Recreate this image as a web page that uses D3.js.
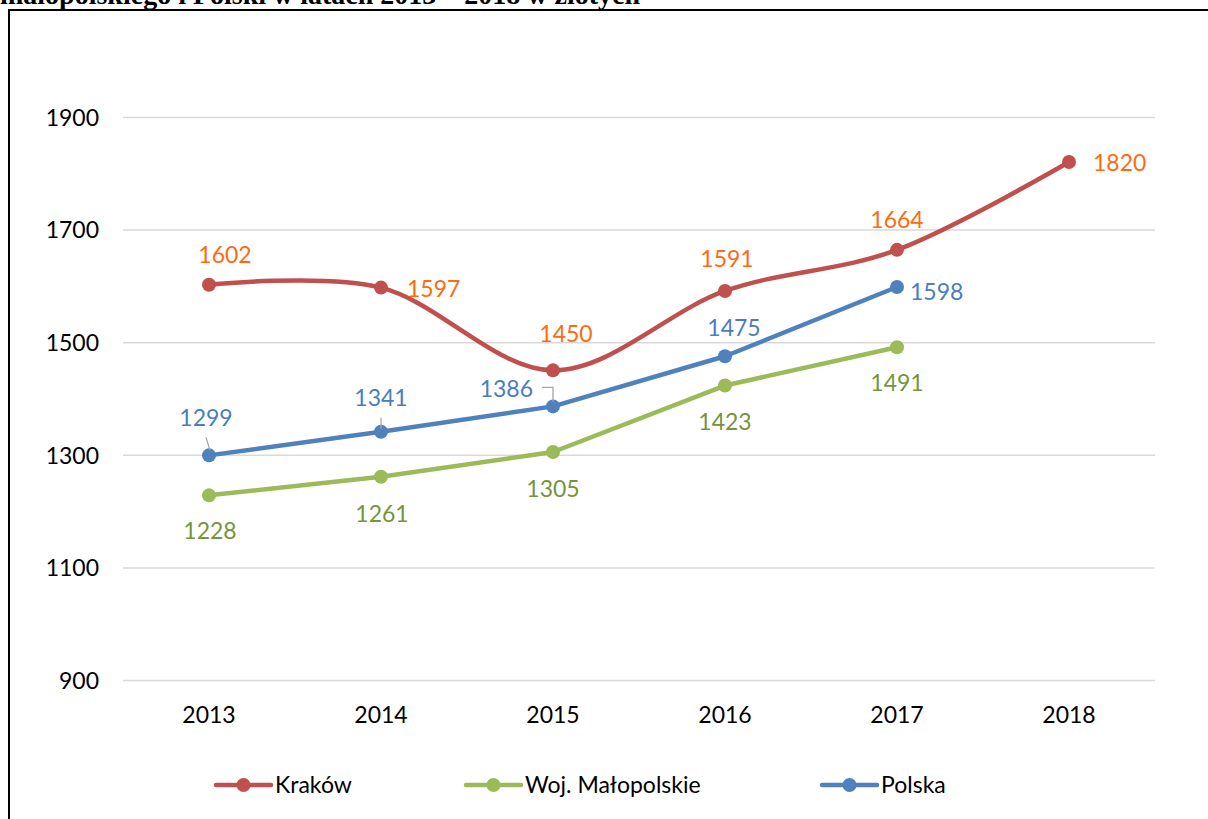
<!DOCTYPE html>
<html>
<head>
<meta charset="utf-8">
<script src="https://cdn.jsdelivr.net/npm/d3@7"></script>
<style>
  body { margin: 0; background: #fff; }
  svg { display: block; }
</style>
</head>
<body>
<div id="chart"></div>
<script>
var width = 1208;
var height = 819;

let years = ['2013', '2014', '2015', '2016', '2017', '2018'];
let yTicks = [900, 1100, 1300, 1500, 1700, 1900];
let seriesNames = ['Kraków', 'Woj. Małopolskie', 'Polska'];
let krakow = [1602, 1597, 1450, 1591, 1664, 1820];
let malopolskie = [1228, 1261, 1305, 1423, 1491];
let polska = [1299, 1341, 1386, 1475, 1598];
let titleText = 'małopolskiego i Polski w latach 2013 – 2018 w złotych';

// label placement for each point: [dx, dy, anchor]
let krakowLabels = [[16, -22, 'middle'], [26, 9, 'start'], [13, -28, 'middle'], [2, -24, 'middle'], [0, -22, 'middle'], [24, 9, 'start']];
let malopolskieLabels = [[1, 44, 'middle'], [1, 45, 'middle'], [0, 45, 'middle'], [0, 44, 'middle'], [0, 44, 'middle']];
let polskaLabels = [[-3, -29, 'middle'], [0, -26, 'middle'], [-20, -9, 'end'], [9, -20, 'middle'], [13, 13, 'start']];

var lineColors = ['#c0504d', '#9bbb59', '#4f81bd'];
var labelColors = ['#ff6a0f', '#77933c', '#4a7ebb'];
var font = 'Lato, "Open Sans", sans-serif';
var fontSize = 23;

let scaleX = d3.scaleBand()
    .domain(years)
    .range([123, 1155]);

let scaleY = d3.scaleLinear()
    .domain([900, 1900])
    .range([680, 117]);

let cx = d => scaleX(d) + scaleX.bandwidth() / 2;

let svg = d3.select('#chart')
    .append('svg')
    .attr('width', width)
    .attr('height', height);

// title of the document, cut off by the page top as in the original
svg.append('text')
    .attr('x', 0)
    .attr('y', 4)
    .attr('font-family', '"Liberation Serif", "Times New Roman", serif')
    .attr('font-weight', 'bold')
    .attr('font-size', 28)
    .attr('fill', '#000')
    .text(titleText);

svg.append('rect')
    .attr('x', 9)
    .attr('y', 10)
    .attr('width', width + 20)
    .attr('height', height + 20)
    .attr('fill', 'none')
    .attr('stroke', '#000')
    .attr('stroke-width', 2);

// gridlines and y labels
let yAxis = d3.axisLeft(scaleY)
    .tickValues(yTicks)
    .tickSize(-(1155 - 123))
    .tickPadding(24)
    .tickFormat(d3.format('d'));

let gy = svg.append('g')
    .attr('transform', 'translate(123,0)')
    .call(yAxis);
gy.select('.domain').remove();
gy.selectAll('.tick line')
    .attr('stroke', '#d9d9d9')
    .attr('stroke-width', 1.5);
gy.selectAll('.tick text')
    .attr('font-family', font)
    .attr('font-size', fontSize)
    .attr('fill', '#000')
    .attr('dy', '0.36em');

let xAxis = d3.axisBottom(scaleX)
    .tickSize(0)
    .tickPadding(27);

let gx = svg.append('g')
    .attr('transform', 'translate(0,680)')
    .call(xAxis);
gx.select('.domain').remove();
gx.selectAll('.tick text')
    .attr('font-family', font)
    .attr('font-size', fontSize)
    .attr('fill', '#000');

let series = [
    { name: seriesNames[0], values: krakow, labels: krakowLabels, curve: d3.curveCardinal },
    { name: seriesNames[1], values: malopolskie, labels: malopolskieLabels, curve: d3.curveLinear },
    { name: seriesNames[2], values: polska, labels: polskaLabels, curve: d3.curveLinear }
];

// draw order: green, blue, red on top
let order = [1, 2, 0];

order.forEach(i => {
    let s = series[i];
    let pts = s.values.map((v, j) => [cx(years[j]), scaleY(v)]);
    let line = d3.line().curve(s.curve);

    svg.append('path')
        .attr('d', line(pts))
        .attr('fill', 'none')
        .attr('stroke', lineColors[i])
        .attr('stroke-width', 4.5)
        .attr('stroke-linejoin', 'round')
        .attr('stroke-linecap', 'round');

    svg.append('g')
        .selectAll('circle')
        .data(pts)
        .enter()
        .append('circle')
        .attr('cx', d => d[0])
        .attr('cy', d => d[1])
        .attr('r', 7)
        .attr('fill', lineColors[i]);
});

// leader lines for some Polska labels
let leaderColor = '#a6a6a6';
let p0 = [cx(years[0]), scaleY(polska[0])];
let p1 = [cx(years[1]), scaleY(polska[1])];
let p2 = [cx(years[2]), scaleY(polska[2])];
let leaders = [
    [[p0[0] - 3, p0[1] - 18], [p0[0] + 1, p0[1] - 5]],
    [[p1[0], p1[1] - 14], [p1[0], p1[1] - 3]],
    [[p2[0] - 11, p2[1] - 19], [p2[0], p2[1] - 19], [p2[0], p2[1] - 5]]
];
svg.append('g')
    .selectAll('path')
    .data(leaders)
    .enter()
    .append('path')
    .attr('d', d => d3.line()(d))
    .attr('fill', 'none')
    .attr('stroke', leaderColor)
    .attr('stroke-width', 1.3);

// data labels
series.forEach((s, i) => {
    svg.append('g')
        .selectAll('text')
        .data(s.values)
        .enter()
        .append('text')
        .attr('x', (d, j) => cx(years[j]) + s.labels[j][0])
        .attr('y', (d, j) => scaleY(d) + s.labels[j][1])
        .attr('text-anchor', (d, j) => s.labels[j][2])
        .attr('font-family', font)
        .attr('font-size', fontSize)
        .attr('fill', labelColors[i])
        .text(d => d);
});

// legend
let legendX = [216, 466, 822];
let legend = svg.append('g')
    .selectAll('g')
    .data(series)
    .enter()
    .append('g')
    .attr('transform', (d, i) => 'translate(' + legendX[i] + ',785)');

legend.append('line')
    .attr('x1', 0)
    .attr('x2', 55)
    .attr('stroke', (d, i) => lineColors[i])
    .attr('stroke-width', 4.5)
    .attr('stroke-linecap', 'round');
legend.append('circle')
    .attr('cx', 27.5)
    .attr('r', 7)
    .attr('fill', (d, i) => lineColors[i]);
legend.append('text')
    .attr('x', 59)
    .attr('y', 8)
    .attr('font-family', font)
    .attr('font-size', fontSize)
    .attr('fill', '#000')
    .text(d => d.name);
</script>
</body>
</html>
